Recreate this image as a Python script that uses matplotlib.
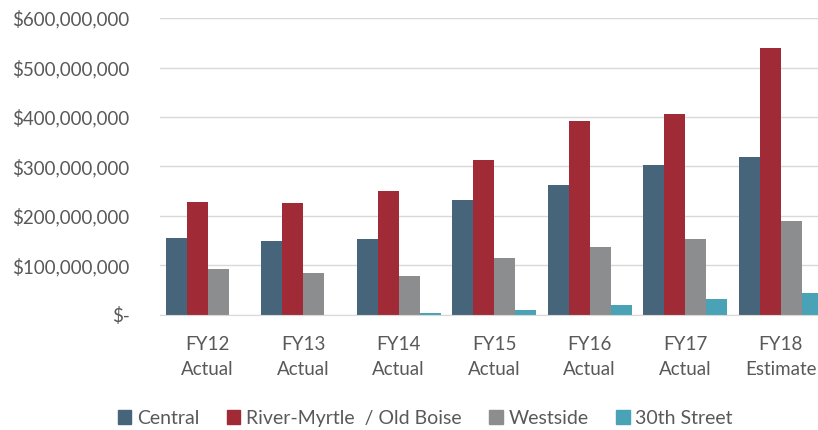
import matplotlib.pyplot as plt
import numpy as np
from matplotlib.ticker import FuncFormatter
from matplotlib.patches import Patch

categories = ["FY12\nActual", "FY13\nActual", "FY14\nActual", "FY15\nActual",
              "FY16\nActual", "FY17\nActual", "FY18\nEstimate"]
central = [156e6, 150e6, 154e6, 232e6, 263e6, 303e6, 320e6]
river_myrtle = [229e6, 227e6, 251e6, 312e6, 392e6, 406e6, 539e6]
westside = [93e6, 85e6, 78e6, 114e6, 137e6, 154e6, 190e6]
thirtieth = [0, 0, 3e6, 9e6, 19e6, 31e6, 43e6]

series = ["Central", "River-Myrtle  / Old Boise", "Westside", "30th Street"]
colors = ["#46657B", "#A02B36", "#8B8D8F", "#4AA2B7"]
text_color = "#595959"

plt.rcParams['font.family'] = ['Lato', 'DejaVu Sans']

fig = plt.figure(figsize=(8.18, 4.30), dpi=100)
ax = fig.add_axes([0.1956, 0.268, 0.817, 0.690])

x = np.arange(len(categories))
w = 0.22
for i, (vals, c) in enumerate(zip([central, river_myrtle, westside, thirtieth], colors)):
    ax.bar(x + (i - 1.5) * w, vals, width=w, color=c, zorder=2)

ax.set_xlim(-0.5, len(categories) - 0.5)
ax.set_ylim(0, 600e6)
ax.set_yticks(np.arange(0, 600e6 + 1, 100e6))

def money(v, pos):
    if v == 0:
        return "$-"
    return "${:,.0f}".format(v)

ax.yaxis.set_major_formatter(FuncFormatter(money))
ax.set_xticks(x)
ax.set_xticklabels(categories, linespacing=1.6)

ax.grid(axis='y', color="#D9D9D9", linewidth=1, zorder=0)
for s in ["top", "right", "left"]:
    ax.spines[s].set_visible(False)
ax.spines["bottom"].set_color("#D9D9D9")
ax.tick_params(axis='both', length=0, labelsize=13.5, colors=text_color)
ax.tick_params(axis='y', pad=22)
ax.tick_params(axis='x', pad=15)

handles = [Patch(color=c, label=s) for s, c in zip(series, colors)]
fig.legend(handles=handles, loc='center', bbox_to_anchor=(0.52, 0.027), ncol=4,
           frameon=False, fontsize=14, labelcolor=text_color,
           handlelength=0.7, handleheight=0.7, handletextpad=0.3, columnspacing=1.4)

plt.savefig("out.png", dpi=100)
plt.close()
